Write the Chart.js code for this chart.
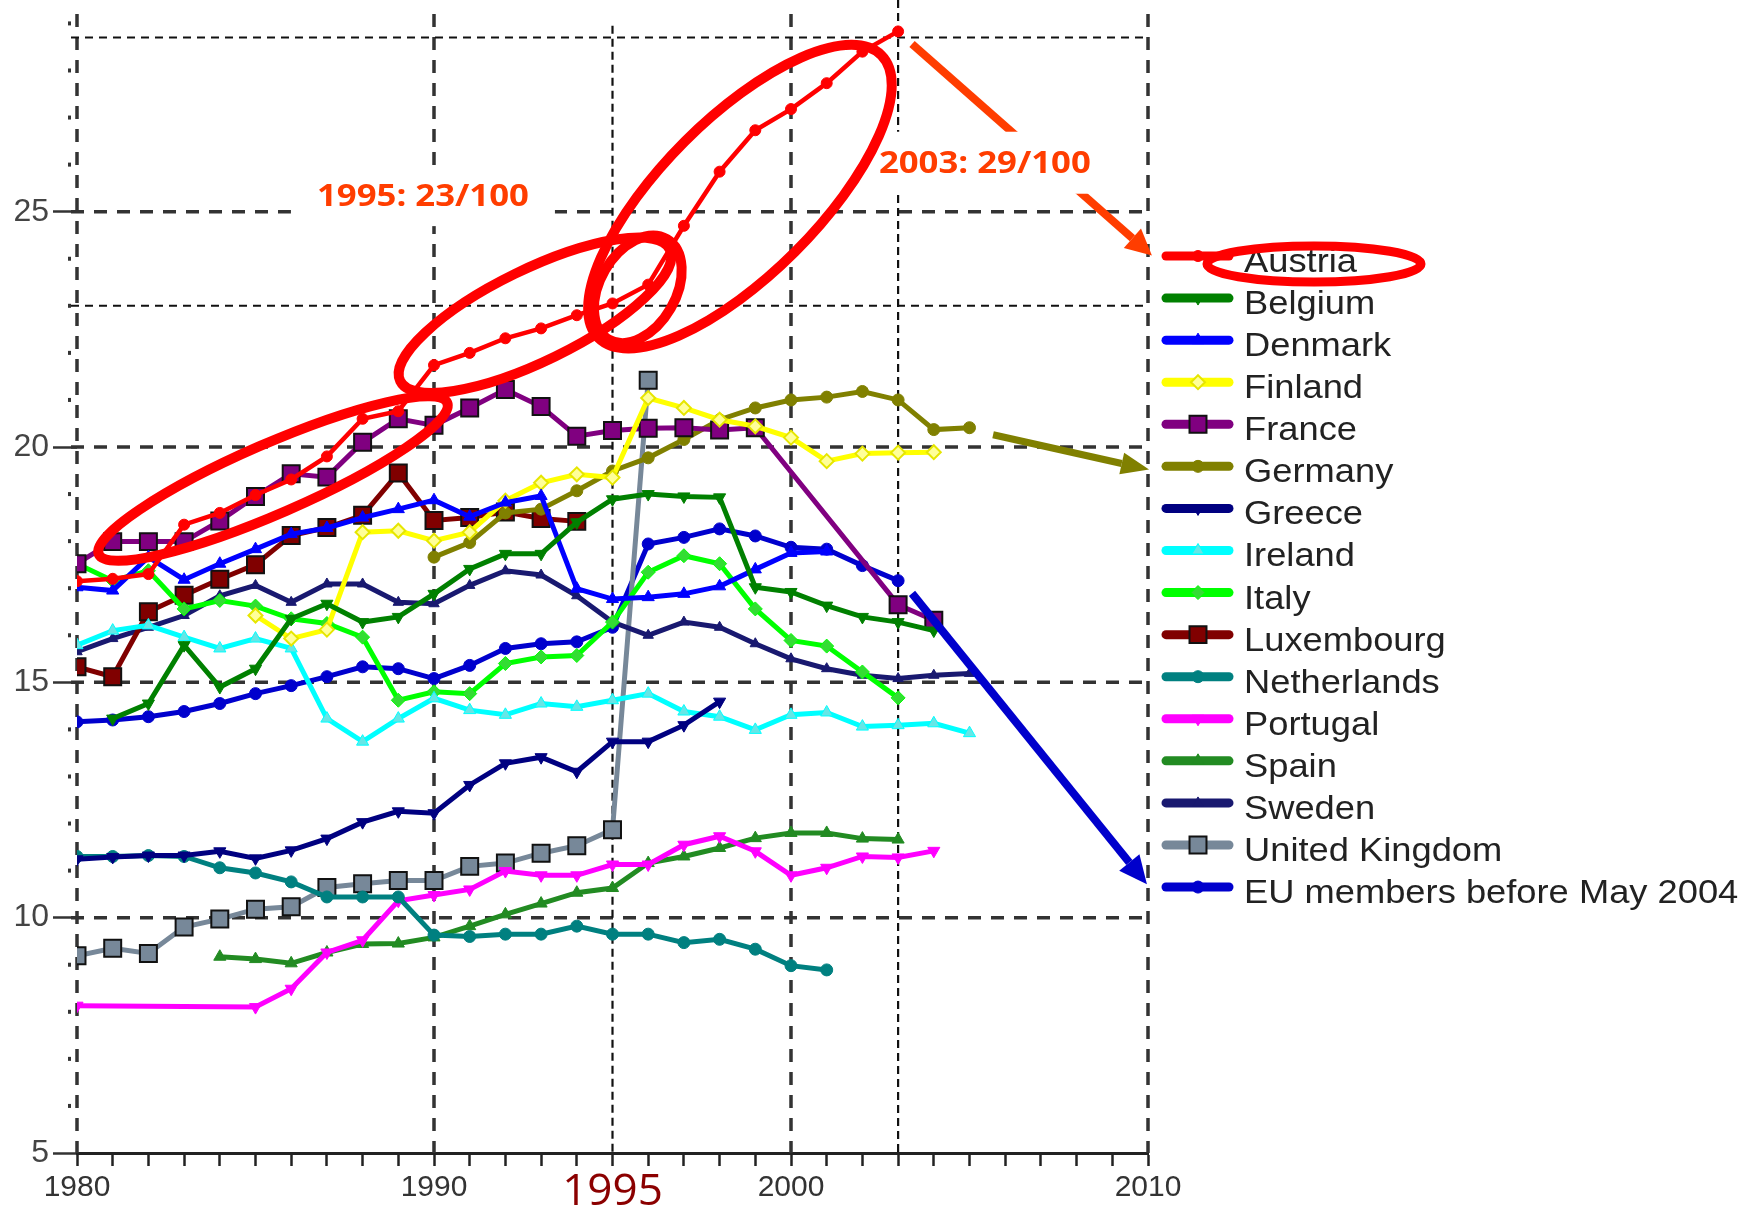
<!DOCTYPE html>
<html>
<head>
<meta charset="utf-8">
<script src="https://cdn.jsdelivr.net/npm/chart.js@4.4.1/dist/chart.umd.min.js"></script>
<style>
  html, body { margin: 0; padding: 0; background: #fff; }
  #wrap { width: 1755px; height: 1208px; position: relative; }
  #chart { filter: blur(0.5px); }
</style>
</head>
<body>
<div id="wrap"><canvas id="chart" width="1755" height="1208"></canvas></div>
<script>
// Years on the x axis
const years = [1980, 1981, 1982, 1983, 1984, 1985, 1986, 1987, 1988, 1989,
  1990, 1991, 1992, 1993, 1994, 1995, 1996, 1997, 1998, 1999,
  2000, 2001, 2002, 2003, 2004, 2005];

// Series values (null = no data for that year)
const austria = [17.15, 17.2, 17.3, 18.35, 18.6, 18.98, 19.31, 19.8, 20.6, 20.76, 21.74, 22.0, 22.31, 22.52, 22.8, 23.05, 23.45, 24.7, 25.85, 26.73, 27.18, 27.73, 28.4, 28.83, null, null];
const belgium = [null, 14.23, 14.55, 15.79, 14.9, 15.29, 16.35, 16.67, 16.28, 16.39, 16.88, 17.41, 17.73, 17.73, 18.4, 18.89, 19.0, 18.95, 18.93, 17.02, 16.92, 16.63, 16.39, 16.28, 16.1, null];
const denmark = [17.02, 16.95, 17.66, 17.18, 17.52, 17.83, 18.15, 18.28, 18.5, 18.68, 18.87, 18.52, 18.82, 18.96, 16.99, 16.77, 16.81, 16.88, 17.04, 17.4, 17.75, 17.78, null, null, null, null];
const finland = [null, null, null, null, null, 16.42, 15.93, 16.12, 18.19, 18.22, 18.01, 18.19, 18.86, 19.24, 19.42, 19.35, 21.04, 20.83, 20.58, 20.44, 20.2, 19.7, 19.86, 19.88, 19.89, null];
const france = [17.52, 17.99, 17.99, 17.99, 18.43, 18.95, 19.43, 19.36, 20.1, 20.6, 20.46, 20.83, 21.22, 20.86, 20.23, 20.35, 20.4, 20.41, 20.36, 20.41, null, null, null, 16.65, 16.32, null];
const germany = [null, null, null, null, null, null, null, null, null, null, 17.66, 17.97, 18.6, 18.68, 19.07, 19.49, 19.77, 20.16, 20.58, 20.83, 21.0, 21.06, 21.18, 21.0, 20.37, 20.41];
const greece = [11.24, 11.29, 11.32, 11.32, 11.41, 11.26, 11.43, 11.68, 12.03, 12.26, 12.22, 12.82, 13.28, 13.41, 13.1, 13.74, 13.74, 14.09, 14.59, null, null, null, null, null, null, null];
const ireland = [15.79, 16.1, 16.21, 15.96, 15.72, 15.93, 15.72, 14.23, 13.74, 14.23, 14.66, 14.41, 14.31, 14.55, 14.48, 14.62, 14.76, 14.38, 14.27, 13.99, 14.31, 14.36, 14.06, 14.09, 14.13, 13.92];
const italy = [17.52, 17.16, 17.37, 16.56, 16.74, 16.62, 16.35, 16.25, 15.96, 14.62, 14.8, 14.76, 15.4, 15.54, 15.57, 16.28, 17.34, 17.69, 17.52, 16.56, 15.89, 15.77, 15.22, 14.67, null, null];
const luxembourg = [15.33, 15.12, 16.5, 16.85, 17.19, 17.5, 18.12, 18.29, 18.55, 19.45, 18.44, 18.5, 18.62, 18.48, 18.42, null, null, null, null, null, null, null, null, null, null, null];
const netherlands = [11.3, 11.3, 11.32, 11.3, 11.06, 10.95, 10.76, 10.44, 10.44, 10.44, 9.63, 9.6, 9.65, 9.65, 9.82, 9.65, 9.65, 9.47, 9.54, 9.33, 8.98, 8.89, null, null, null, null];
const portugal = [8.13, null, null, null, null, 8.1, 8.49, 9.26, 9.52, 10.36, 10.48, 10.6, 10.99, 10.9, 10.9, 11.13, 11.13, 11.55, 11.73, 11.41, 10.9, 11.06, 11.3, 11.28, 11.42, null];
const spain = [null, null, null, null, 9.17, 9.12, 9.03, 9.26, 9.44, 9.45, 9.58, 9.82, 10.07, 10.3, 10.53, 10.63, 11.16, 11.3, 11.48, 11.69, 11.8, 11.8, 11.68, 11.66, null, null];
const sweden = [15.65, 15.93, 16.17, 16.42, 16.84, 17.06, 16.7, 17.09, 17.09, 16.7, 16.67, 17.06, 17.37, 17.28, 16.84, 16.28, 16.0, 16.28, 16.17, 15.82, 15.5, 15.29, 15.15, 15.08, 15.15, 15.19];
const unitedKingdom = [9.19, 9.35, 9.24, 9.8, 9.97, 10.18, 10.23, 10.64, 10.72, 10.79, 10.79, 11.09, 11.16, 11.37, 11.53, 11.87, 21.42, null, null, null, null, null, null, null, null, null];
const euMembers = [14.16, 14.2, 14.27, 14.38, 14.55, 14.76, 14.93, 15.12, 15.33, 15.29, 15.08, 15.36, 15.72, 15.82, 15.86, 16.17, 17.94, 18.08, 18.26, 18.11, 17.87, 17.83, 17.48, 17.16, null, null];

const seriesNames = ['Austria', 'Belgium', 'Denmark', 'Finland', 'France', 'Germany', 'Greece', 'Ireland',
  'Italy', 'Luxembourg', 'Netherlands', 'Portugal', 'Spain', 'Sweden', 'United Kingdom', 'EU members before May 2004'];
const seriesValues = [austria, belgium, denmark, finland, france, germany, greece, ireland,
  italy, luxembourg, netherlands, portugal, spain, sweden, unitedKingdom, euMembers];

// Axis ticks
const xTickLabels = [1980, 1990, 2000, 2010];
const yTickLabels = [5, 10, 15, 20, 25];

// Look of each series: line colour, marker shape
const looks = [
  { color: '#ff0000', fill: '#ff0000', shape: 'circle', r: 5.5 },
  { color: '#008000', fill: '#008000', shape: 'triangle', rot: 180, r: 7 },
  { color: '#0000ff', fill: '#0000ff', shape: 'triangle', r: 7 },
  { color: '#ffff00', fill: '#ffff99', shape: 'rectRot', r: 7, edge: '#e6e600' },
  { color: '#800080', fill: '#800080', shape: 'rect', r: 12, edge: '#111' },
  { color: '#808000', fill: '#808000', shape: 'circle', r: 6 },
  { color: '#000080', fill: '#000080', shape: 'triangle', rot: 180, r: 7 },
  { color: '#00ffff', fill: '#66e6e6', shape: 'triangle', r: 7 },
  { color: '#00ff00', fill: '#33dd33', shape: 'rectRot', r: 7 },
  { color: '#800000', fill: '#800000', shape: 'rect', r: 12, edge: '#111' },
  { color: '#008080', fill: '#008080', shape: 'circle', r: 6 },
  { color: '#ff00ff', fill: '#ff00ff', shape: 'triangle', rot: 180, r: 7 },
  { color: '#228b22', fill: '#228b22', shape: 'triangle', r: 7 },
  { color: '#191970', fill: '#191970', shape: 'triangle', r: 6 },
  { color: '#778899', fill: '#778899', shape: 'rect', r: 12, edge: '#111' },
  { color: '#0000cd', fill: '#0000cd', shape: 'circle', r: 6 }
];

// Hand-drawn annotations (positions in axis units)
const rings = [
  { year: 1985.49, value: 19.33, rx: 190, ry: 35, angle: -23.5 },
  { year: 1992.83, value: 22.8, rx: 150, ry: 46, angle: -26 },
  { year: 1995.71, value: 23.35, rx: 58, ry: 38, angle: -60 },
  { year: 1998.57, value: 25.32, rx: 200, ry: 78, angle: -45 }
];
const arrows = [
  { from: [2003.39, 28.56], to: [2010.11, 24.07], color: '#ff3d00', width: 8, head: 26, half: 13 },
  { from: [2005.66, 20.26], to: [2010.03, 19.52], color: '#808000', width: 7, head: 28, half: 11 },
  { from: [2003.39, 16.89], to: [2009.97, 10.71], color: '#0000cc', width: 8, head: 28, half: 13 }
];
const notes = [
  { text: '1995: 23/100', year: 1989.69, value: 25.32, w: 264, h: 59 },
  { text: '2003: 29/100', year: 2005.43, value: 26.04, w: 240, h: 62 }
];

function series(values) {
  return years.map((yr, i) => ({ x: yr, y: values[i] })).filter(p => p.y !== null);
}

function dashed(ctx, x1, y1, x2, y2, width, dash, color) {
  ctx.save();
  ctx.strokeStyle = color;
  ctx.lineWidth = width;
  ctx.setLineDash(dash);
  ctx.beginPath();
  ctx.moveTo(x1, y1);
  ctx.lineTo(x2, y2);
  ctx.stroke();
  ctx.restore();
}

// Dashed grid drawn under the lines
const gridPlugin = {
  id: 'dashGrid',
  beforeDatasetsDraw(chart) {
    const { ctx, chartArea: a, scales: { x, y } } = chart;
    [10, 15, 20, 25].forEach(v => {
      const py = y.getPixelForValue(v);
      dashed(ctx, a.left - 6, py, a.right, py, 3.5, [13, 10], '#333');
    });
    xTickLabels.forEach(v => {
      const px = x.getPixelForValue(v);
      dashed(ctx, px, a.top, px, a.bottom, 3.5, [13, 10], '#333');
    });
    // thin reference lines
    [23, 28.7].forEach(v => {
      const py = y.getPixelForValue(v);
      dashed(ctx, a.left - 6, py, a.right, py, 2, [8, 6], '#111');
    });
    const p95 = x.getPixelForValue(1995);
    dashed(ctx, p95, y.getPixelForValue(28.95), p95, a.bottom, 2.2, [8, 5], '#111');
    const p03 = x.getPixelForValue(2003);
    dashed(ctx, p03, 0, p03, a.bottom, 2.2, [8, 5], '#111');
    // minor y dots
    ctx.save();
    ctx.fillStyle = '#333';
    for (let v = 6; v <= 29; v++) {
      if (v % 5 === 0) continue;
      ctx.fillRect(a.left - 9, y.getPixelForValue(v) - 2, 3, 4);
    }
    ctx.restore();
  }
};

function ellipse(ctx, cx, cy, rx, ry, angle) {
  ctx.beginPath();
  ctx.ellipse(cx, cy, rx, ry, angle * Math.PI / 180, 0, Math.PI * 2);
  ctx.stroke();
}

function arrow(ctx, x1, y1, x2, y2, o) {
  const ang = Math.atan2(y2 - y1, x2 - x1);
  const bx = x2 - Math.cos(ang) * o.head;
  const by = y2 - Math.sin(ang) * o.head;
  ctx.save();
  ctx.strokeStyle = o.color;
  ctx.fillStyle = o.color;
  ctx.lineWidth = o.width;
  ctx.beginPath();
  ctx.moveTo(x1, y1);
  ctx.lineTo(bx, by);
  ctx.stroke();
  ctx.beginPath();
  ctx.moveTo(x2, y2);
  ctx.lineTo(bx + Math.sin(ang) * o.half, by - Math.cos(ang) * o.half);
  ctx.lineTo(bx - Math.sin(ang) * o.half, by + Math.cos(ang) * o.half);
  ctx.closePath();
  ctx.fill();
  ctx.restore();
}

function stretchedText(ctx, text, x, y, sx) {
  ctx.save();
  ctx.translate(x, y);
  ctx.scale(sx, 1);
  ctx.fillText(text, 0, 0);
  ctx.restore();
}

// Arrows, note boxes, then circles on top of the lines
const notesPlugin = {
  id: 'handNotes',
  afterDatasetsDraw(chart) {
    const { ctx, scales: { x, y } } = chart;

    arrows.forEach(o => arrow(ctx,
      x.getPixelForValue(o.from[0]), y.getPixelForValue(o.from[1]),
      x.getPixelForValue(o.to[0]), y.getPixelForValue(o.to[1]), o));

    notes.forEach(n => {
      const cx = x.getPixelForValue(n.year);
      const cy = y.getPixelForValue(n.value);
      ctx.save();
      ctx.fillStyle = '#fff';
      ctx.fillRect(cx - n.w / 2, cy - n.h / 2, n.w, n.h);
      ctx.fillStyle = '#ff3d00';
      ctx.font = 'bold 31px "Open Sans", "DejaVu Sans", sans-serif';
      ctx.textAlign = 'center';
      ctx.textBaseline = 'middle';
      stretchedText(ctx, n.text, cx, cy + 1, 1.12);
      ctx.restore();
    });

    ctx.save();
    ctx.strokeStyle = '#ff0000';
    ctx.lineWidth = 10;
    rings.forEach(r => ellipse(ctx, x.getPixelForValue(r.year), y.getPixelForValue(r.value), r.rx, r.ry, r.angle));
    ctx.restore();

    // highlighted year under the axis
    ctx.save();
    ctx.fillStyle = '#8b0000';
    ctx.font = '44px "Open Sans", "DejaVu Sans", sans-serif';
    ctx.textAlign = 'center';
    ctx.textBaseline = 'alphabetic';
    ctx.fillText('1995', x.getPixelForValue(1995), 1205);
    ctx.restore();
  }
};

function marker(ctx, look, px, py) {
  ctx.save();
  ctx.fillStyle = look.fill;
  ctx.strokeStyle = look.edge || look.color;
  ctx.lineWidth = look.edge ? 2 : 1;
  Chart.helpers.drawPoint(ctx, { pointStyle: look.shape, rotation: look.rot || 0, radius: look.r, borderWidth: ctx.lineWidth }, px, py);
  ctx.restore();
}

// Legend at the right, line + marker + name
const legendPlugin = {
  id: 'sideLegend',
  afterDraw(chart) {
    const { ctx, chartArea: a } = chart;
    const x0 = a.right + 14;
    seriesNames.forEach((name, i) => {
      const look = looks[i];
      const cy = 256 + i * 42.07;
      ctx.save();
      ctx.strokeStyle = look.color;
      ctx.lineWidth = 9;
      ctx.lineCap = 'round';
      ctx.beginPath();
      ctx.moveTo(x0 + 4, cy);
      ctx.lineTo(x0 + 67, cy);
      ctx.stroke();
      ctx.restore();
      marker(ctx, look, x0 + 36, cy);
      ctx.save();
      ctx.fillStyle = '#222';
      ctx.font = '33px "Liberation Sans", Arial, sans-serif';
      ctx.textBaseline = 'alphabetic';
      stretchedText(ctx, name, x0 + 82, cy + 16, 1.1);
      ctx.restore();
    });
    // ring round the Austria entry
    ctx.save();
    ctx.strokeStyle = '#ff0000';
    ctx.lineWidth = 9;
    ellipse(ctx, x0 + 152, 264, 107, 18, 0);
    ctx.restore();
  }
};

const datasets = seriesNames.map((name, i) => {
  const look = looks[i];
  return {
    label: name,
    data: series(seriesValues[i]),
    borderColor: look.color,
    backgroundColor: look.fill,
    borderWidth: i === 0 ? 4.5 : 5,
    pointStyle: look.shape,
    pointRotation: look.rot || 0,
    pointRadius: look.r,
    pointBackgroundColor: look.fill,
    pointBorderColor: look.edge || look.color,
    pointBorderWidth: look.edge ? 2 : 1,
    tension: 0,
    fill: false,
    spanGaps: true
  };
});

new Chart(document.getElementById('chart').getContext('2d'), {
  type: 'line',
  data: { datasets },
  options: {
    responsive: false,
    animation: false,
    devicePixelRatio: 1,
    layout: { padding: { left: 0, right: 607, top: 10, bottom: 0 } },
    plugins: {
      legend: { display: false },
      tooltip: { enabled: false }
    },
    scales: {
      x: {
        type: 'linear',
        min: 1980,
        max: 2010,
        afterFit: scale => {
          scale.height = 55;
          scale.paddingLeft = 0;
          scale.paddingRight = 0;
        },
        ticks: {
          stepSize: 1,
          autoSkip: false,
          maxRotation: 0,
          padding: 4,
          color: '#333',
          font: { family: '"Liberation Sans", Arial, sans-serif', size: 30 },
          callback: v => xTickLabels.includes(v) ? String(v) : ''
        },
        grid: {
          drawOnChartArea: false,
          drawTicks: true,
          tickLength: 13,
          tickWidth: 2.5,
          tickColor: '#222',
          color: '#222'
        },
        border: { display: true, color: '#222', width: 3 }
      },
      y: {
        type: 'linear',
        min: 5,
        max: 29.2,
        afterFit: scale => {
          scale.width = 77;
          scale.paddingTop = 0;
          scale.paddingBottom = 0;
        },
        ticks: {
          stepSize: 5,
          includeBounds: false,
          padding: 4,
          color: '#444',
          font: { family: '"Liberation Sans", Arial, sans-serif', size: 32 },
          callback: v => yTickLabels.includes(v) ? String(v) : ''
        },
        grid: {
          drawOnChartArea: false,
          drawTicks: true,
          tickLength: 24,
          tickWidth: 2.5,
          tickColor: '#333',
          color: '#333'
        },
        border: { display: false }
      }
    }
  },
  plugins: [gridPlugin, notesPlugin, legendPlugin]
});
</script>
</body>
</html>
